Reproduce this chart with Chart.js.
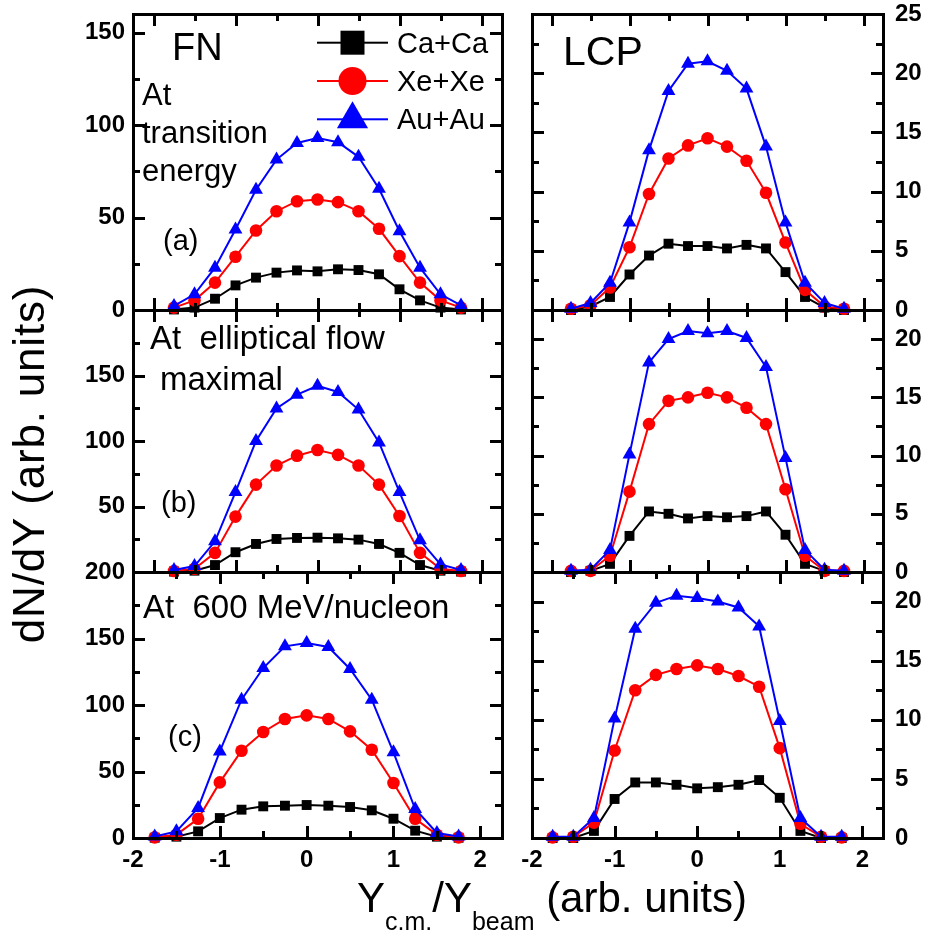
<!DOCTYPE html>
<html>
<head>
<meta charset="utf-8">
<script src="https://cdn.jsdelivr.net/npm/chart.js@4.4.1/dist/chart.umd.min.js"></script>
<style>
  body { margin: 0; background: #fff; }
  #wrap { position: relative; width: 926px; height: 939px; overflow: hidden; }
  #wrap canvas { position: absolute; left: 0; top: 0; }
  .title { position: absolute; color: #000; white-space: nowrap; line-height: 1; font-family: "Liberation Sans", Arial, sans-serif; }
  .sub { font-size: 25px; position: relative; top: 18px; line-height: 0; }
  #yTitle { left: -181px; top: 442px; width: 420px; height: 44px; font-size: 44px; letter-spacing: 0.8px; text-align: center; transform: rotate(-90deg); }
  #xTitle { left: 357px; top: 877px; font-size: 42px; }
  #note { position: absolute; left: 4px; top: 905px; font: 12px sans-serif; color: #c00; }
</style>
</head>
<body>
<div id="wrap">
  <canvas id="fnA" width="926" height="939"></canvas>
  <canvas id="lcpA" width="926" height="939"></canvas>
  <canvas id="fnB" width="926" height="939"></canvas>
  <canvas id="lcpB" width="926" height="939"></canvas>
  <canvas id="fnC" width="926" height="939"></canvas>
  <canvas id="lcpC" width="926" height="939"></canvas>
  <canvas id="frames" width="926" height="939"></canvas>
  <div class="title" id="yTitle">dN/dY (arb. units)</div>
  <div class="title" id="xTitle">Y<span class="sub">c.m.</span>/Y<span class="sub">beam</span> (arb. units)</div>
  <div id="note"></div>
</div>
<script>
// rapidity bins (Y_cm / Y_beam)
const rapidity = [-1.75, -1.5, -1.25, -1, -0.75, -0.5, -0.25, 0, 0.25, 0.5, 0.75, 1, 1.25, 1.5, 1.75];

// (a) at transition energy
const fnTransCa = [0.3, 1.3, 6.1, 13.3, 17.5, 20.2, 21.4, 20.9, 22.0, 21.6, 19.3, 11.2, 5.2, 1.3, 0.3];
const fnTransXe = [1.3, 5.2, 14.8, 28.8, 43.0, 53.4, 58.8, 59.7, 58.3, 53.4, 43.9, 29.1, 14.8, 5.2, 1.3];
const fnTransAu = [2.2, 8.5, 22.9, 43.5, 65.0, 81.3, 90.3, 93.0, 90.7, 82.8, 65.5, 42.6, 22.9, 8.5, 2.5];
const lcpTransCa = [0.0, 0.3, 1.1, 3.0, 4.6, 5.6, 5.4, 5.4, 5.2, 5.5, 5.2, 3.2, 1.1, 0.2, 0.0];
const lcpTransXe = [0.1, 0.4, 1.9, 5.3, 9.8, 12.8, 13.9, 14.5, 13.8, 12.6, 9.9, 5.7, 1.7, 0.3, 0.1];
const lcpTransAu = [0.1, 0.6, 2.3, 7.4, 13.5, 18.5, 20.8, 21.0, 20.2, 18.7, 13.8, 7.4, 2.3, 0.6, 0.1];

// (b) at elliptical flow maximal
const fnEllipCa = [0.3, 1.0, 5.3, 15.1, 21.4, 25.2, 26.0, 26.2, 25.7, 24.7, 21.4, 14.6, 5.3, 1.0, 0.3];
const fnEllipXe = [0.8, 2.5, 14.6, 42.3, 66.7, 81.3, 88.8, 93.1, 89.4, 81.3, 66.7, 42.8, 14.6, 2.5, 0.8];
const fnEllipAu = [1.5, 4.5, 23.4, 61.0, 100.0, 124.8, 135.4, 142.2, 137.4, 124.0, 98.9, 61.0, 24.2, 5.8, 1.5];
const lcpEllipCa = [0.0, 0.1, 0.7, 3.1, 5.2, 5.0, 4.6, 4.8, 4.7, 4.8, 5.2, 3.2, 0.7, 0.1, 0.0];
const lcpEllipXe = [0.1, 0.1, 1.4, 6.9, 12.7, 14.7, 15.0, 15.4, 15.0, 14.1, 12.7, 7.1, 1.4, 0.1, 0.1];
const lcpEllipAu = [0.1, 0.2, 1.9, 10.1, 18.0, 20.0, 20.7, 20.5, 20.7, 20.1, 17.6, 9.8, 1.9, 0.2, 0.1];

// (c) at 600 MeV/nucleon
const fn600Ca = [0.2, 1.0, 5.0, 15.0, 21.3, 23.8, 24.3, 24.8, 24.3, 23.3, 20.8, 14.5, 5.5, 1.0, 0.2];
const fn600Xe = [0.5, 2.5, 14.5, 41.8, 65.6, 79.7, 89.5, 92.2, 89.5, 80.2, 66.4, 41.4, 14.5, 2.5, 0.5];
const fn600Au = [1.2, 5.0, 22.6, 65.1, 104.0, 127.8, 144.1, 146.6, 143.6, 127.1, 104.0, 64.4, 21.8, 3.8, 1.2];
const lcp600Ca = [0.0, 0.0, 0.6, 3.3, 4.7, 4.7, 4.5, 4.2, 4.3, 4.5, 4.9, 3.4, 0.6, 0.0, 0.0];
const lcp600Xe = [0.05, 0.1, 1.3, 7.4, 12.5, 13.8, 14.3, 14.6, 14.3, 13.7, 12.8, 7.6, 1.2, 0.1, 0.05];
const lcp600Au = [0.1, 0.1, 1.7, 10.1, 17.7, 19.9, 20.5, 20.3, 20.0, 19.5, 17.9, 9.9, 1.7, 0.1, 0.1];

// tick labels and minor ticks
const xLabels = [-2, -1, 0, 1, 2];
const xMinor = [-1.5, -0.5, 0.5, 1.5];
const fnLabelsA = [0, 50, 100, 150];
const fnMinorA = [25, 75, 125];
const fnLabelsB = [50, 100, 150];
const fnLabelsC = [0, 50, 100, 150, 200];
const fnMinorBC = [25, 75, 125, 175];
const lcpLabelsA = [0, 5, 10, 15, 20, 25];
const lcpLabelsBC = [0, 5, 10, 15, 20];
const lcpMinorA = [2.5, 7.5, 12.5, 17.5, 22.5];
const lcpMinorBC = [2.5, 7.5, 12.5, 17.5];

const systems = ["Ca+Ca", "Xe+Xe", "Au+Au"];
const colors = ["#000000", "#ff0000", "#0000ff"];
const styles = ["rect", "circle", "triangle"];
const radii = [7, 6.3, 8];

const FONT = '"Liberation Sans", Arial, sans-serif';
const W = 926, H = 939;
const panels = [];

// box with inward major/minor ticks on all four sides
function drawBox(ctx, chart, yMajor, yMinor) {
  const a = chart.chartArea, sx = chart.scales.x, sy = chart.scales.y;
  const l = Math.round(a.left), r = Math.round(a.right);
  const t = Math.round(a.top), b = Math.round(a.bottom);
  ctx.save();
  ctx.globalAlpha = 1;
  ctx.globalCompositeOperation = "source-over";
  ctx.fillStyle = "#000000";
  ctx.fillRect(l - 1, t - 1, r - l + 3, 3);
  ctx.fillRect(l - 1, b - 1, r - l + 3, 3);
  ctx.fillRect(l - 1, t - 1, 3, b - t + 3);
  ctx.fillRect(r - 1, t - 1, 3, b - t + 3);
  for (const v of xLabels) {
    const px = Math.round(sx.getPixelForValue(v));
    ctx.fillRect(px - 1, b - 12, 3, 12);
    ctx.fillRect(px - 1, t, 3, 12);
  }
  for (const v of xMinor) {
    const px = Math.round(sx.getPixelForValue(v));
    ctx.fillRect(px - 1, b - 7, 3, 7);
    ctx.fillRect(px - 1, t, 3, 7);
  }
  for (const v of yMajor) {
    const py = Math.round(sy.getPixelForValue(v));
    ctx.fillRect(l, py - 1, 12, 3);
    ctx.fillRect(r - 12, py - 1, 12, 3);
  }
  for (const v of yMinor) {
    const py = Math.round(sy.getPixelForValue(v));
    ctx.fillRect(l, py - 1, 7, 3);
    ctx.fillRect(r - 7, py - 1, 7, 3);
  }
  ctx.restore();
}

function makePanel(id, p) {
  const [L, T, R, B] = p.rect;
  const yW = 60;
  const xH = p.showX ? 40 : 0;
  const padLeft = p.yRight ? L : L - yW;
  const padRight = p.yRight ? W - R - yW : W - R;
  const series = [p.ca, p.xe, p.au];
  const texts = p.texts || [];
  const legend = p.legend;

  // panel captions and legend
  const panelDeco = {
    id: "panelDeco",
    afterDraw(chart) {
      const ctx = chart.ctx;
      drawBox(ctx, chart, p.yLabels, p.yMinor);
      ctx.save();
      ctx.fillStyle = "#000";
      ctx.textBaseline = "alphabetic";
      for (const tx of texts) {
        ctx.font = tx.size + "px " + FONT;
        ctx.fillText(tx.text, tx.x, tx.y);
      }
      if (legend) {
        legend.rows.forEach((ry, i) => {
          ctx.fillStyle = colors[i];
          ctx.fillRect(legend.x0, ry - 1, legend.x1 - legend.x0, 2);
          const cx = (legend.x0 + legend.x1) / 2;
          ctx.beginPath();
          if (i === 0) ctx.rect(cx - 12, ry - 12, 24, 24);
          else if (i === 1) ctx.arc(cx, ry, 14, 0, Math.PI * 2);
          else {
            ctx.moveTo(cx, ry - 18);
            ctx.lineTo(cx + 15.6, ry + 9);
            ctx.lineTo(cx - 15.6, ry + 9);
            ctx.closePath();
          }
          ctx.fill();
          ctx.fillStyle = "#000";
          ctx.font = "29px " + FONT;
          ctx.fillText(systems[i], legend.tx, ry + 10);
        });
      }
      ctx.restore();
    },
  };

  const chart = new Chart(document.getElementById(id), {
    type: "line",
    data: {
      datasets: series.map((vals, i) => ({
        label: systems[i],
        data: rapidity.map((x, k) => ({ x, y: vals[k] })),
        borderColor: colors[i],
        backgroundColor: colors[i],
        borderWidth: 2,
        pointStyle: styles[i],
        pointRadius: radii[i],
        pointBorderWidth: 0,
        pointBackgroundColor: colors[i],
        tension: 0,
        clip: false,
        order: 2 - i,
      })),
    },
    options: {
      responsive: false,
      animation: false,
      devicePixelRatio: 1,
      layout: { padding: { left: padLeft, right: padRight, top: T, bottom: H - B - xH } },
      plugins: { legend: { display: false }, tooltip: { enabled: false } },
      scales: {
        x: {
          type: "linear",
          min: p.xMin,
          max: 2.25,
          grid: { display: false, drawTicks: false },
          border: { display: false },
          ticks: {
            display: !!p.showX,
            padding: 8,
            color: "#000",
            font: { family: FONT, size: 24, weight: "bold" },
          },
          afterBuildTicks: (s) => { s.ticks = xLabels.map((v) => ({ value: v })); },
          afterFit: (s) => { s.height = xH; s.paddingLeft = 0; s.paddingRight = 0; },
        },
        y: {
          type: "linear",
          position: p.yRight ? "right" : "left",
          min: 0,
          max: p.yMax,
          grid: { display: false, drawTicks: false },
          border: { display: false },
          ticks: {
            padding: p.yRight ? 12 : 8,
            color: "#000",
            font: { family: FONT, size: 24, weight: "bold" },
          },
          afterBuildTicks: (s) => { s.ticks = p.yLabels.map((v) => ({ value: v })); },
          afterFit: (s) => { s.width = yW; s.paddingTop = 0; s.paddingBottom = 0; },
        },
      },
    },
    plugins: [panelDeco],
  });
  panels.push({ chart, yMajor: p.yLabels, yMinor: p.yMinor });
}

const colL = [133, 502], colR = [532, 883];
const rowA = [14, 310], rowB = [310, 572], rowC = [572, 838];

makePanel("fnA", {
  rect: [colL[0], rowA[0], colL[1], rowA[1]], yMax: 160, xMin: -2.25,
  yLabels: fnLabelsA, yMinor: fnMinorA, ca: fnTransCa, xe: fnTransXe, au: fnTransAu,
  texts: [
    { text: "FN", x: 172, y: 60, size: 38 },
    { text: "At", x: 142, y: 105, size: 31 },
    { text: "transition", x: 142, y: 143, size: 31 },
    { text: "energy", x: 142, y: 181, size: 31 },
    { text: "(a)", x: 163, y: 250, size: 29 },
  ],
  legend: { x0: 317, x1: 388, tx: 397, rows: [42.7, 81, 119.3] },
});
makePanel("lcpA", {
  rect: [colR[0], rowA[0], colR[1], rowA[1]], yMax: 25, xMin: -2.25, yRight: true,
  yLabels: lcpLabelsA, yMinor: lcpMinorA, ca: lcpTransCa, xe: lcpTransXe, au: lcpTransAu,
  texts: [{ text: "LCP", x: 563, y: 65, size: 41 }],
});
makePanel("fnB", {
  rect: [colL[0], rowB[0], colL[1], rowB[1]], yMax: 200, xMin: -2.25,
  yLabels: fnLabelsB, yMinor: fnMinorBC, ca: fnEllipCa, xe: fnEllipXe, au: fnEllipAu,
  texts: [
    { text: "At  elliptical flow", x: 150, y: 349, size: 33 },
    { text: "maximal", x: 160, y: 390, size: 33 },
    { text: "(b)", x: 161, y: 512, size: 29 },
  ],
});
makePanel("lcpB", {
  rect: [colR[0], rowB[0], colR[1], rowB[1]], yMax: 22.5, xMin: -2.25, yRight: true,
  yLabels: lcpLabelsBC, yMinor: lcpMinorBC, ca: lcpEllipCa, xe: lcpEllipXe, au: lcpEllipAu,
});
makePanel("fnC", {
  rect: [colL[0], rowC[0], colL[1], rowC[1]], yMax: 200, xMin: -2, showX: true,
  yLabels: fnLabelsC, yMinor: fnMinorBC, ca: fn600Ca, xe: fn600Xe, au: fn600Au,
  texts: [
    { text: "At  600 MeV/nucleon", x: 143, y: 618, size: 33 },
    { text: "(c)", x: 168, y: 746, size: 29 },
  ],
});
makePanel("lcpC", {
  rect: [colR[0], rowC[0], colR[1], rowC[1]], yMax: 22.5, xMin: -2, showX: true, yRight: true,
  yLabels: lcpLabelsBC, yMinor: lcpMinorBC, ca: lcp600Ca, xe: lcp600Xe, au: lcp600Au,
});

// boxes and ticks again on a top overlay so no panel layer can hide them
const overlay = document.getElementById("frames").getContext("2d");
for (const pn of panels) drawBox(overlay, pn.chart, pn.yMajor, pn.yMinor);

// self-check: only writes a note when a tick pixel came out empty
const c0 = panels[0].chart;
const tx = Math.round(c0.scales.x.getPixelForValue(2));
const ty = Math.round(c0.chartArea.top) + 5;
const px = overlay.getImageData(tx, ty, 1, 1).data;
if (px[3] < 128) {
  document.getElementById("note").textContent =
    "tick check x=" + tx + " y=" + ty + " a=" + px[3];
}
</script>
</body>
</html>
